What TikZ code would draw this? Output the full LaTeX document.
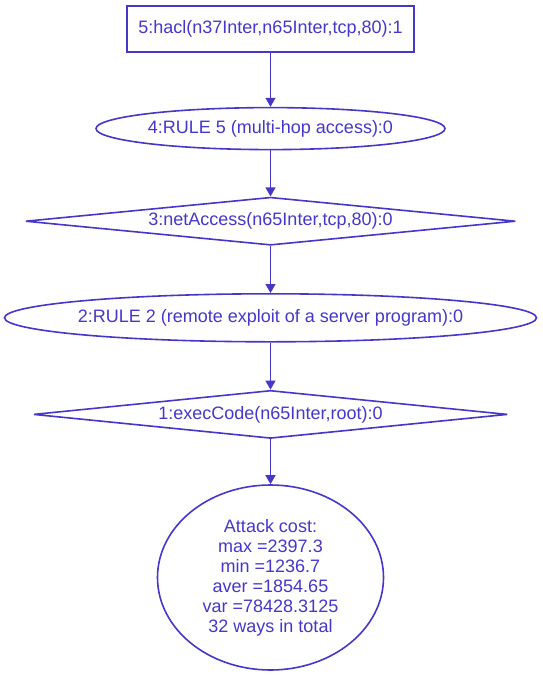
\documentclass[tikz,border=0pt]{standalone}
\usepackage{fontspec}
\setmainfont{Liberation Sans}
\usetikzlibrary{positioning,arrows.meta,shapes.geometric}
\definecolor{gblue}{HTML}{4636CC}

\begin{document}
\begin{tikzpicture}[x=1pt, y=1pt, font=\fontsize{18}{20}\selectfont, text=gblue,
  fact/.style={draw=gblue, line width=1.6pt, rectangle, inner sep=0pt, minimum width=287pt, minimum height=46pt},
  rule/.style={draw=gblue, line width=1.6pt, ellipse, inner sep=0pt},
  prim/.style={draw=gblue, line width=1.6pt, diamond, aspect=10, inner sep=0pt},
  arr/.style={draw=gblue, line width=1.3pt, -{Triangle[length=9pt, width=10pt]}}]
\useasboundingbox (0,0) rectangle (543,-675);
% chain, top to bottom
\node[fact] (n5) at (270.5,-29) {5:hacl(n37Inter,n65Inter,tcp,80):1};
\node[rule, minimum width=349pt, minimum height=42pt, inner xsep=-10pt, below=54pt of n5] (n4) {4:RULE 5 (multi-hop access):0};
\node[prim, minimum width=490pt, minimum height=48pt, below=46pt of n4] (n3) {3:netAccess(n65Inter,tcp,80):0};
\node[rule, minimum width=532pt, minimum height=48pt, inner xsep=-25pt, below=47pt of n3] (n2) {2:RULE 2 (remote exploit of a server program):0};
\node[prim, minimum width=474pt, minimum height=48pt, below=47pt of n2] (n1) {1:execCode(n65Inter,root):0};
\node[rule, align=center, minimum width=226pt, minimum height=185pt, below=45pt of n1] (cost)
  {Attack cost:\\max =2397.3\\min =1236.7\\aver =1854.65\\var =78428.3125\\32 ways in total};
\draw[arr] (n5) -- (n4);
\draw[arr] (n4) -- (n3);
\draw[arr] (n3) -- (n2);
\draw[arr] (n2) -- (n1);
\draw[arr] (n1) -- (cost);
\end{tikzpicture}
\end{document}
